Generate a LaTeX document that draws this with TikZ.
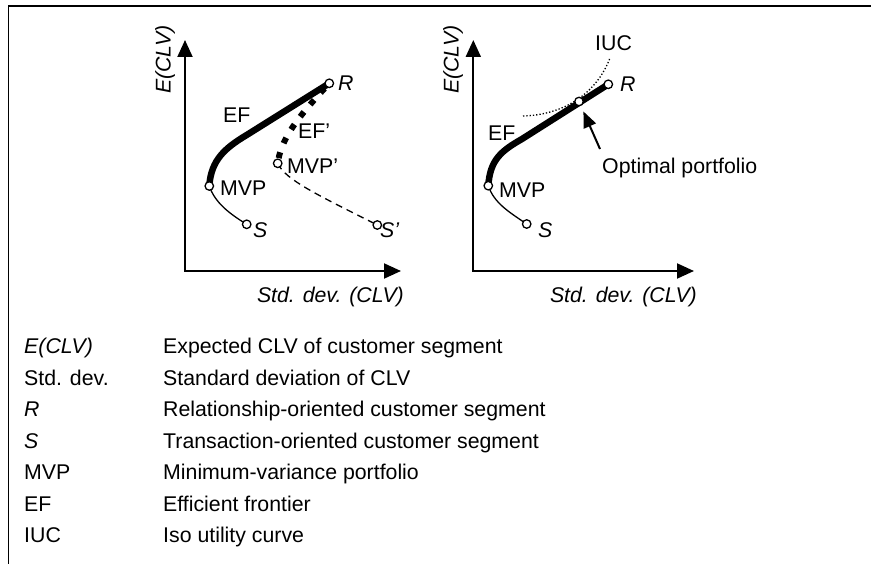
\documentclass[tikz,border=0pt]{standalone}
\usepackage{fontspec}
\setmainfont{Liberation Sans}
\usetikzlibrary{arrows.meta}
\begin{document}
\begin{tikzpicture}[x=1pt,y=-1pt,
  every node/.style={font=\fontsize{21.3}{25}\selectfont, inner sep=0pt},
  frameline/.style={line width=1.7pt},
  axisline/.style={line width=2pt, line join=miter,
    {Triangle[length=17pt,width=15pt]}-{Triangle[length=17pt,width=15pt]}},
  thinline/.style={line width=1.3pt},
  thindash/.style={line width=1.3pt, dash pattern=on 7pt off 5pt},
  efline/.style={line width=6.5pt, line cap=round},
  efdash/.style={line width=6pt, dash pattern=on 6pt off 9.7pt, dash phase=10.4pt},
  iucline/.style={line width=1.3pt, dash pattern=on 1.3pt off 2pt},
  pointer/.style={line width=2pt, -{Triangle[length=16pt,width=13pt]}, shorten >=6pt},
  dotpt/.style={circle, draw, fill=white, minimum size=8.5pt, line width=1.3pt},
  lab/.style={anchor=base west},
  ilab/.style={anchor=base west, font=\fontsize{21.3}{25}\selectfont\itshape},
]
\useasboundingbox (0,0) rectangle (871,564);
\clip (0,0) rectangle (871,564);
\fill[white] (0,0) rectangle (871,564);

% frame
\coordinate (FB) at (8.5,580);
\coordinate (FC) at (8.5,6.2);
\coordinate (FR) at (890,6.2);
\draw[frameline] (FB) -- (FC) -- (FR);

% ---------- left plot ----------
\coordinate (O1) at (185,271);
\coordinate (Y1) at (185,40);
\coordinate (X1) at (401,271);
\coordinate (R1) at (329.3,83.3);
\coordinate (M1) at (209.3,186);
\coordinate (S1) at (246.7,224.3);
\coordinate (M1p) at (277.7,163.3);
\coordinate (S1p) at (377.3,225);

\draw[axisline] (Y1) -- (O1) -- (X1);
\draw[thinline] (M1) .. controls (215,203) and (230,214) .. (S1);
\draw[thindash] (M1p) .. controls (285,180) and (320,196) .. (S1p);
\draw[efdash] (M1p) .. controls (281,140) and (295,120) .. (R1);
\draw[efline] (M1) .. controls (211,160) and (225,148) .. (246.7,135) -- (R1);

\node[dotpt] (R1n) at (R1) {};
\node[dotpt] (M1n) at (M1) {};
\node[dotpt] (S1n) at (S1) {};
\node[dotpt] (M1pn) at (M1p) {};
\node[dotpt] (S1pn) at (S1p) {};

\node[rotate=90, font=\fontsize{21.3}{25}\selectfont\itshape] (ey1) at (165,59.5) {E(CLV)};
\node[anchor=base east, font=\fontsize{21.3}{25}\selectfont\itshape] (sd1) at (404,303) {Std. dev. (CLV)};
\node[ilab] (lR1) at (338,91) {R};
\node[lab] (lM1) at (220,196) {MVP};
\node[ilab] (lS1) at (253,237.5) {S};
\node[lab] (lM1p) at (287,173.5) {MVP’};
\node[ilab] (lS1p) at (380,237.5) {S’};
\node[lab] (lEF1) at (223,122.5) {EF};
\node[lab] (lEF1p) at (298,138.5) {EF’};

% ---------- right plot ----------
\coordinate (O2) at (473.3,271);
\coordinate (Y2) at (473.3,40);
\coordinate (X2) at (694,271);
\coordinate (R2) at (608.3,84.3);
\coordinate (P2) at (579,101.5);
\coordinate (M2) at (488.3,185.7);
\coordinate (S2) at (526.7,224);
\coordinate (I2a) at (523,116);
\coordinate (I2b) at (610,58);
\coordinate (A2) at (600,149);

\draw[axisline] (Y2) -- (O2) -- (X2);
\draw[thinline] (M2) .. controls (494,203) and (509,212) .. (S2);
\draw[efline] (M2) .. controls (490,160) and (501,151) .. (522,139) -- (R2);
\draw[iucline] (I2a) .. controls (560,115) and (595,97) .. (I2b);

\node[dotpt] (R2n) at (R2) {};
\node[dotpt] (P2n) at (P2) {};
\node[dotpt] (M2n) at (M2) {};
\node[dotpt] (S2n) at (S2) {};

\draw[pointer] (A2) -- (P2n);

\node[rotate=90, font=\fontsize{21.3}{25}\selectfont\itshape] (ey2) at (453,59.5) {E(CLV)};
\node[anchor=base east, font=\fontsize{21.3}{25}\selectfont\itshape] (sd2) at (697,303) {Std. dev. (CLV)};
\node[ilab] (lR2) at (620,91.5) {R};
\node[lab] (lM2) at (499,197.5) {MVP};
\node[ilab] (lS2) at (538,237.5) {S};
\node[lab] (lEF2) at (488,140.5) {EF};
\node[lab] (lIUC) at (595,50.8) {IUC};
\node[lab] (lOpt) at (602,174) {Optimal portfolio};

% ---------- legend ----------
\node[ilab] (k1) at (24,353.5) {E(CLV)};
\node[lab]  (v1) at (163,353.5) {Expected CLV of customer segment};
\node[lab]  (k2) at (24,385) {Std. dev.};
\node[lab]  (v2) at (163,385) {Standard deviation of CLV};
\node[ilab] (k3) at (24,416.5) {R};
\node[lab]  (v3) at (163,416.5) {Relationship-oriented customer segment};
\node[ilab] (k4) at (24,448) {S};
\node[lab]  (v4) at (163,448) {Transaction-oriented customer segment};
\node[lab]  (k5) at (24,479.5) {MVP};
\node[lab]  (v5) at (163,479.5) {Minimum-variance portfolio};
\node[lab]  (k6) at (24,511) {EF};
\node[lab]  (v6) at (163,511) {Efficient frontier};
\node[lab]  (k7) at (24,542.5) {IUC};
\node[lab]  (v7) at (163,542.5) {Iso utility curve};
\end{tikzpicture}
\end{document}
